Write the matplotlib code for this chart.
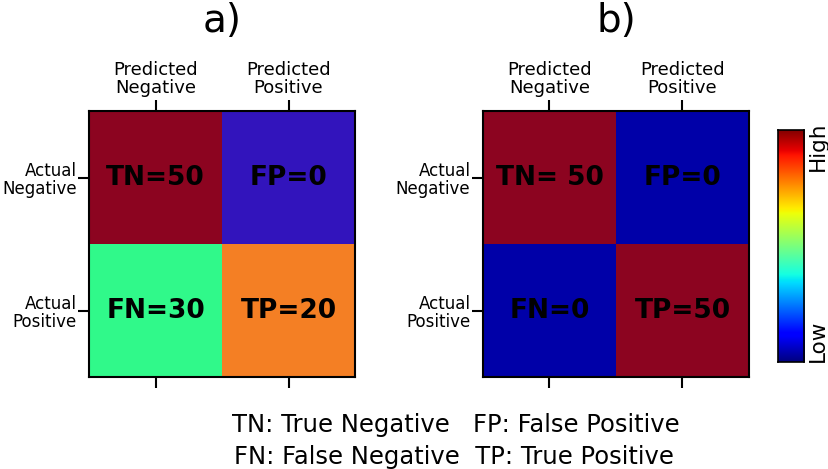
import matplotlib
matplotlib.use('Agg')
import matplotlib.pyplot as plt
import numpy as np
from matplotlib.colors import ListedColormap

# Data
col_labels = ['Predicted\nNegative', 'Predicted\nPositive']
row_labels = ['Actual\nNegative', 'Actual\nPositive']
titles = ['a)', 'b)']
cells_a = [['TN=50', 'FP=0'], ['FN=30', 'TP=20']]
cells_b = [['TN= 50', 'FP=0'], ['FN=0', 'TP=50']]
cbar_labels = ['Low', 'High']
legend_lines = ['TN: True Negative   FP: False Positive',
                'FN: False Negative  TP: True Positive']

# cell colours (row-major)
colors_a = ['#8c0420', '#3214bc', '#30f98a', '#f47f24']
colors_b = ['#8c0420', '#0000a8', '#0000a8', '#8c0420']

fig = plt.figure(figsize=(8.29, 4.69), dpi=100)
ax1 = fig.add_axes([0.1074, 0.196, 0.3209, 0.567])
ax2 = fig.add_axes([0.5826, 0.196, 0.3209, 0.567])
cax = fig.add_axes([0.9385, 0.228, 0.0314, 0.4947])

idx = np.arange(4).reshape(2, 2)
for ax, cells, cols, title in [(ax1, cells_a, colors_a, titles[0]),
                               (ax2, cells_b, colors_b, titles[1])]:
    ax.imshow(idx, cmap=ListedColormap(cols), aspect='auto',
              interpolation='nearest')
    for i in range(2):
        for j in range(2):
            ax.text(j, i, cells[i][j], ha='center', va='center',
                    fontsize=19, fontweight='bold', color='black')
    ax.set_xticks([0, 1])
    ax.set_xticklabels(col_labels, fontsize=13, linespacing=1.05)
    ax.set_yticks([0, 1])
    ax.set_yticklabels(row_labels, fontsize=12, linespacing=1.05)
    ax.tick_params(axis='x', which='both', top=True, bottom=True,
                   labeltop=True, labelbottom=False, length=8, width=1.5,
                   direction='out', pad=2)
    ax.tick_params(axis='y', length=8, width=1.5, direction='out', pad=1)
    for s in ax.spines.values():
        s.set_linewidth(1.5)
    pos = ax.get_position()
    fig.text((pos.x0 + pos.x1) / 2, 0.955, title, ha='center', va='center',
             fontsize=28)

# colour bar
grad = np.linspace(0, 1, 256).reshape(-1, 1)
cax.imshow(grad, cmap='jet', aspect='auto', origin='lower',
           extent=[0, 1, 0, 1])
cax.set_xticks([])
cax.yaxis.tick_right()
cax.set_yticks([0.09, 0.93])
cax.set_yticklabels(cbar_labels, rotation=90, va='center', fontsize=15.5)
cax.tick_params(axis='y', length=0, pad=3)
for s in cax.spines.values():
    s.set_linewidth(1.2)

fig.text(0.55, 0.094, legend_lines[0], ha='center', va='center', fontsize=17.5)
fig.text(0.547, 0.026, legend_lines[1], ha='center', va='center', fontsize=17.5)

plt.savefig('out.png', dpi=100)
